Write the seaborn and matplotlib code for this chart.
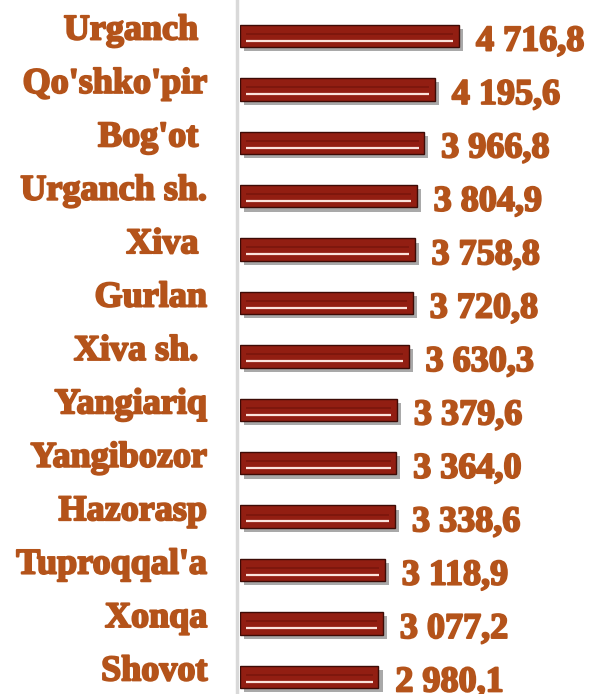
import matplotlib
matplotlib.use("Agg")
from matplotlib import pyplot as plt
from matplotlib import patheffects as pe
from matplotlib import transforms
import seaborn as sns

districts = ["Urganch ", "Qo'shko'pir", "Bog'ot ", "Urganch sh.", "Xiva ", "Gurlan",
             "Xiva sh. ", "Yangiariq", "Yangibozor", "Hazorasp", "Tuproqqal'a",
             "Xonqa", "Shovot"]
values = [4716.8, 4195.6, 3966.8, 3804.9, 3758.8, 3720.8, 3630.3,
          3379.6, 3364.0, 3338.6, 3118.9, 3077.2, 2980.1]

text_color = "#B4531A"
bar_color = "#921E12"

sns.set_style("white")
plt.rcParams["font.family"] = ["Liberation Serif", "DejaVu Serif"]

fig = plt.figure(figsize=(5.92, 6.94), dpi=100)
ax = fig.add_axes([240 / 592, 0, 352 / 592, 1])

sns.barplot(x=values, y=districts, orient="h", color=bar_color, width=0.42,
            edgecolor="#3d0b06", linewidth=1.0, saturation=1, ax=ax)

# drop shadow on the bars
for p in ax.patches:
    p.set_path_effects([pe.SimplePatchShadow(offset=(3, -3), shadow_rgbFace="#555555", alpha=0.5),
                        pe.Normal()])

# bevel lines inside the bars
pos = list(range(len(values)))
ax.hlines([i - 0.04 for i in pos], 120, [v - 120 for v in values], color="#7a160c", lw=1.2, zorder=3)
ax.hlines([i + 0.09 for i in pos], 120, [v - 120 for v in values], color="#fbe3dc", lw=1.6, zorder=3)

ax.set_xlim(0, 352 / 0.04643)
ax.set_ylim(12.32, -0.674)
ax.set_xlabel("")
ax.set_ylabel("")
ax.set_xticks([])

for s in ["top", "right", "bottom"]:
    ax.spines[s].set_visible(False)
ax.spines["left"].set_color("#d9d9d9")
ax.spines["left"].set_linewidth(2.5)
ax.spines["left"].set_position(("outward", 2))

bold = [pe.withStroke(linewidth=1.4, foreground=text_color)]

ax.tick_params(axis="y", length=0, pad=21.5)
shift = transforms.ScaledTranslation(0, 9 / 100, fig.dpi_scale_trans)
for lab in ax.get_yticklabels():
    lab.set_fontsize(26)
    lab.set_fontweight("bold")
    lab.set_color(text_color)
    lab.set_path_effects(bold)
    lab.set_transform(lab.get_transform() + shift)

for i, v in enumerate(values):
    txt = f"{v:,.1f}".replace(",", " ").replace(".", ",")
    ax.annotate(txt, (v, i), xytext=(17, -6), textcoords="offset pixels",
                ha="left", va="center", fontsize=26, fontweight="bold",
                color=text_color, annotation_clip=False, path_effects=bold)

fig.savefig("out.png", dpi=100)
